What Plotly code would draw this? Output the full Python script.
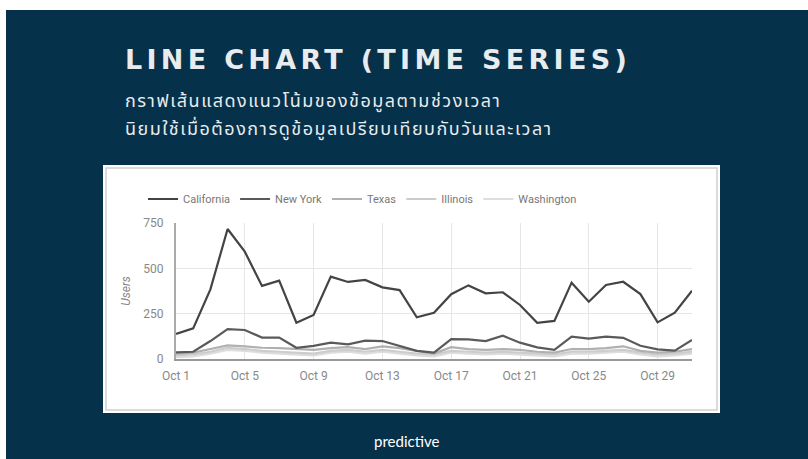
import plotly.graph_objects as go

dates = [f"2023-10-{d:02d}" for d in range(1, 32)]
california = [138, 169, 384, 717, 592, 403, 432, 200, 243, 454, 425, 436, 395, 380, 230,
              255, 357, 406, 362, 368, 298, 200, 210, 421, 316, 408, 426, 358, 202, 255, 377]
new_york = [37, 40, 99, 165, 160, 118, 118, 62, 72, 90, 81, 101, 99, 72, 45,
            35, 110, 108, 99, 128, 90, 64, 50, 123, 112, 123, 117, 73, 53, 46, 105]
texas = [30, 35, 55, 75, 70, 62, 60, 55, 50, 60, 65, 55, 70, 60, 45,
         30, 65, 55, 50, 55, 50, 40, 35, 55, 55, 60, 70, 45, 35, 40, 55]
illinois = [20, 25, 40, 62, 55, 45, 40, 35, 30, 45, 50, 40, 50, 40, 30,
            25, 45, 40, 35, 40, 35, 30, 25, 40, 40, 45, 50, 35, 25, 30, 40]
washington = [10, 15, 30, 50, 45, 35, 30, 25, 20, 35, 40, 30, 40, 30, 20,
              15, 35, 30, 25, 30, 25, 20, 15, 30, 30, 35, 40, 25, 15, 20, 30]

series = [
    ("California", california, "#444444"),
    ("New York", new_york, "#5a5a5a"),
    ("Texas", texas, "#b0b0b0"),
    ("Illinois", illinois, "#cccccc"),
    ("Washington", washington, "#dddddd"),
]

title = "LINE CHART (TIME SERIES)"
subtitle1 = "กราฟเส้นแสดงแนวโน้มของข้อมูลตามช่วงเวลา"
subtitle2 = "นิยมใช้เมื่อต้องการดูข้อมูลเปรียบเทียบกับวันและเวลา"
brand = "predictive"

fig = go.Figure()
for name, vals, col in reversed(series):
    fig.add_trace(go.Scatter(x=dates, y=vals, mode="lines", name=name,
                             line=dict(color=col, width=2.2)))

# pixel -> paper helpers (plot area 176..692 x 223..359)
L, R, T, B = 176, 692, 223, 359
def px(x):
    return (x - L) / (R - L)
def py(y):
    return (B - y) / (B - T)

navy = "#06314a"
thai_font = "Noto Sans Thai, Loma, Garuda, Tlwg Typo, sans-serif"
fig.update_layout(
    width=808, height=459,
    margin=dict(l=L, r=808 - R, t=T, b=459 - B, pad=0),
    paper_bgcolor="white", plot_bgcolor="rgba(0,0,0,0)",
    font=dict(family="Roboto, Arial, sans-serif", color="#888888", size=12),
    shapes=[
        dict(type="rect", xref="paper", yref="paper", layer="below",
             x0=px(6), x1=px(810), y0=py(461), y1=py(10),
             fillcolor=navy, line=dict(width=0)),
        dict(type="rect", xref="paper", yref="paper", layer="below",
             x0=px(103), x1=px(720), y0=py(413), y1=py(165),
             fillcolor="white", line=dict(width=0)),
        dict(type="rect", xref="paper", yref="paper", layer="below",
             x0=px(106), x1=px(717), y0=py(410), y1=py(168),
             fillcolor="white", line=dict(width=1.5, color="#cfcfcf")),
    ],
    legend=dict(orientation="h", x=px(143), y=py(199), xanchor="left", yanchor="middle",
                traceorder="reversed", font=dict(size=11, color="#777777"),
                bgcolor="rgba(0,0,0,0)"),
    showlegend=True,
    annotations=[
        dict(text=f"<b>{title}</b>", x=px(123), y=py(60), xref="paper", yref="paper",
             xanchor="left", yanchor="middle", align="left", showarrow=False,
             font=dict(family="DejaVu Sans, sans-serif", size=27, color="#e9ecee")),
        dict(text=subtitle1, x=px(123), y=py(101), xref="paper", yref="paper",
             xanchor="left", yanchor="middle", align="left", showarrow=False,
             font=dict(family=thai_font, size=18, color="#e9ecee")),
        dict(text=subtitle2, x=px(123), y=py(129), xref="paper", yref="paper",
             xanchor="left", yanchor="middle", align="left", showarrow=False,
             font=dict(family=thai_font, size=18, color="#e9ecee")),
        dict(text=brand, x=px(406), y=py(441), xref="paper", yref="paper",
             xanchor="center", yanchor="middle", showarrow=False,
             font=dict(family="Lato, sans-serif", size=15, color="#ffffff")),
    ],
)

fig.update_xaxes(range=["2023-10-01", "2023-10-31"], tick0="2023-10-01", dtick=4 * 86400000,
                 tickformat="%b %-d", showgrid=True, gridcolor="#e6e6e6", gridwidth=1,
                 showline=True, linecolor="#999999", linewidth=2, ticks="",
                 ticklabelstandoff=5, tickfont=dict(size=12, color="#888888"),
                 zeroline=False)
fig.update_yaxes(range=[0, 750], tickvals=[0, 250, 500, 750], showgrid=True,
                 gridcolor="#e6e6e6", gridwidth=1, showline=True, linecolor="#aaaaaa",
                 linewidth=2, ticks="", ticklabelstandoff=8, zeroline=False,
                 tickfont=dict(size=12, color="#888888"),
                 title=dict(text="<i>Users</i>", standoff=10, font=dict(size=12, color="#888888")))

post = """
document.body.style.margin='0';
var ann = document.querySelectorAll('.annotation-text');
if (ann.length >= 3) {
  ann[0].style.letterSpacing = '4.3px';
  ann[1].style.letterSpacing = '1.5px';
  ann[2].style.letterSpacing = '1.5px';
}
"""
fig.write_html("out.html", post_script=post, config={"displayModeBar": False})
